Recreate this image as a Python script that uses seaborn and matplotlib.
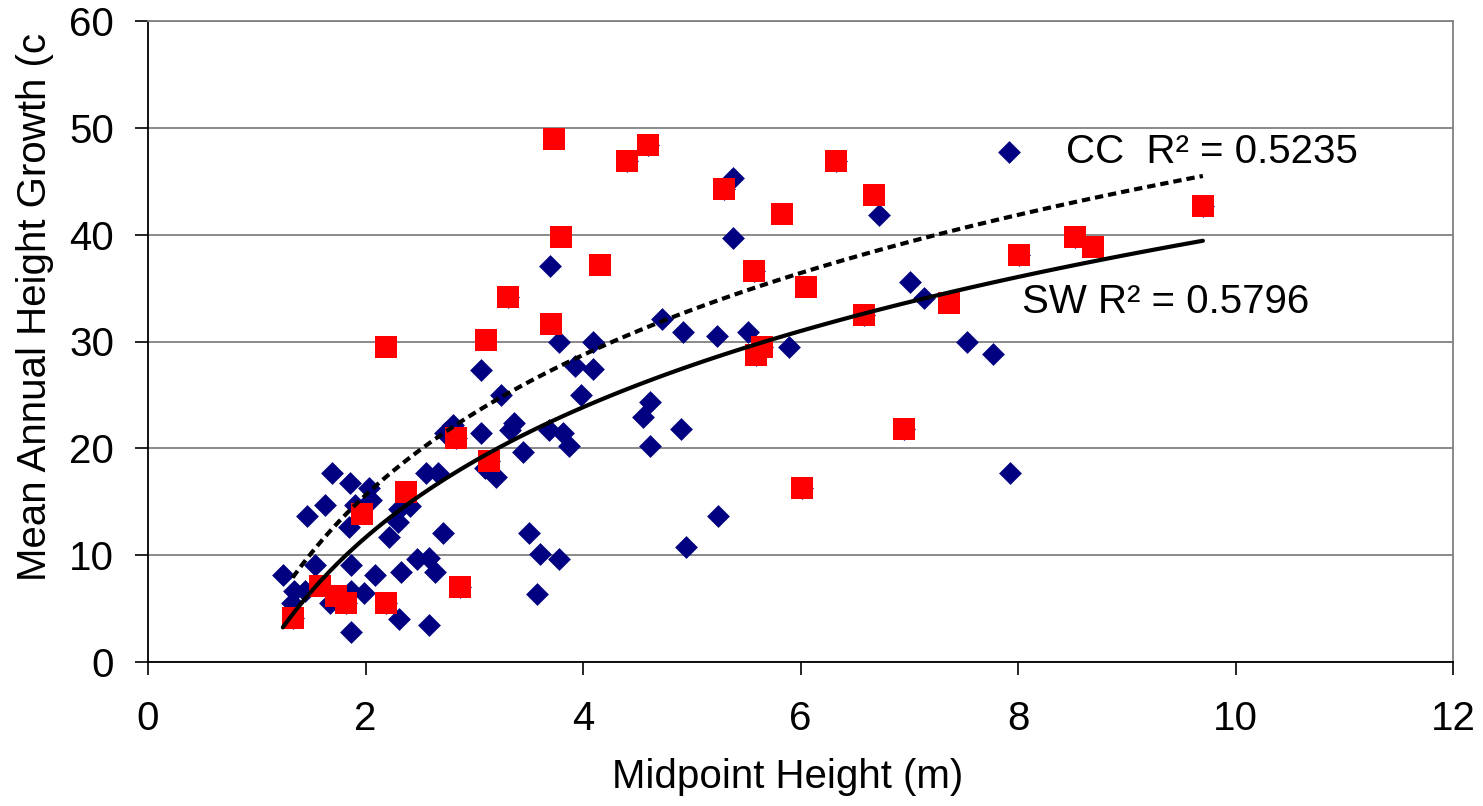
import numpy as np
import pandas as pd
import matplotlib
matplotlib.use("Agg")
import matplotlib.pyplot as plt
import seaborn as sns

# blue diamonds (CC)
cc_x = [1.24, 1.32, 1.33, 1.34, 1.44, 1.46, 1.54, 1.63, 1.67, 1.69, 1.82, 1.85, 1.86, 1.87,
        1.87, 1.87, 1.90, 1.99, 2.03, 2.05, 2.09, 2.19, 2.22, 2.30, 2.31, 2.31, 2.33, 2.41,
        2.47, 2.56, 2.58, 2.58, 2.64, 2.67, 2.71, 2.73, 2.80, 2.83, 2.87, 3.06, 3.06, 3.10,
        3.14, 3.20, 3.25, 3.31, 3.33, 3.37, 3.45, 3.50, 3.58, 3.60, 3.69, 3.70, 3.78, 3.78,
        3.82, 3.87, 3.93, 3.98, 4.09, 4.09, 4.40, 4.55, 4.60, 4.62, 4.62, 4.73, 4.90, 4.92,
        4.95, 5.23, 5.24, 5.30, 5.38, 5.38, 5.52, 5.57, 5.59, 5.65, 5.89, 6.01, 6.33, 6.58,
        6.72, 6.95, 7.01, 7.14, 7.53, 7.77, 7.93, 8.01, 8.52, 9.70]
cc_y = [8.1, 5.5, 4.1, 6.6, 6.6, 13.7, 9.1, 14.7, 5.5, 17.7, 5.5, 12.6, 16.8, 9.1,
        6.6, 2.8, 14.7, 6.5, 16.3, 15.2, 8.1, 5.5, 11.7, 13.1, 14.3, 4.0, 8.4, 14.6,
        9.6, 17.7, 9.7, 3.5, 8.4, 17.7, 12.1, 21.4, 22.2, 21.0, 7.0, 21.4, 27.3, 18.2,
        18.8, 17.3, 25.0, 34.2, 21.7, 22.4, 19.7, 12.1, 6.4, 10.1, 21.7, 37.1, 30.0, 9.6,
        21.4, 20.2, 27.7, 25.0, 30.0, 27.4, 46.9, 22.9, 48.4, 24.3, 20.2, 32.1, 21.8, 30.9,
        10.8, 30.5, 13.7, 44.3, 45.3, 39.7, 30.9, 36.6, 28.7, 29.5, 29.5, 16.3, 46.9, 32.5,
        41.8, 21.8, 35.6, 34.1, 30.0, 28.8, 17.7, 38.1, 39.8, 42.7]

# red squares (SW)
sw_x = [1.33, 1.58, 1.73, 1.82, 1.97, 2.19, 2.19, 2.37, 2.83, 2.87, 3.11, 3.14, 3.31, 3.71,
        3.73, 3.80, 4.16, 4.40, 4.60, 5.30, 5.57, 5.59, 5.65, 5.83, 6.01, 6.05, 6.33, 6.58,
        6.68, 6.95, 7.37, 8.01, 8.52, 8.69, 9.70]
sw_y = [4.1, 7.1, 6.2, 5.5, 13.9, 5.5, 29.5, 15.9, 21.0, 7.0, 30.1, 18.8, 34.2, 31.6,
        49.0, 39.8, 37.2, 46.9, 48.4, 44.3, 36.6, 28.7, 29.5, 41.9, 16.3, 35.1, 46.9, 32.5,
        43.7, 21.8, 33.6, 38.1, 39.8, 38.8, 42.7]

cc_label = "CC  R² = 0.5235"
sw_label = "SW R² = 0.5796"
x_ticks = [0, 2, 4, 6, 8, 10, 12]
y_ticks = [0, 10, 20, 30, 40, 50, 60]

cc = pd.DataFrame({"x": cc_x, "y": cc_y})
sw = pd.DataFrame({"x": sw_x, "y": sw_y})


def log_trend(df):
    # Excel-style logarithmic trendline over the data range
    a, b = np.polyfit(np.log(df["x"]), df["y"], 1)
    xs = np.linspace(df["x"].min(), df["x"].max(), 120)
    return pd.DataFrame({"x": xs, "y": a * np.log(xs) + b})


sns.set_style("white")
plt.rcParams["font.family"] = ["Liberation Sans", "DejaVu Sans"]
plt.rcParams.update({"text.color": "black", "axes.labelcolor": "black",
                     "xtick.color": "black", "ytick.color": "black"})
FS = 29

fig = plt.figure(figsize=(14.83, 8.06), dpi=100)
ax = fig.add_axes([148 / 1483, 144 / 806, 1305 / 1483, 641 / 806])

sns.scatterplot(data=cc, x="x", y="y", marker="D", color="#000080", s=135,
                linewidth=0, ax=ax, zorder=3)
sns.scatterplot(data=sw, x="x", y="y", marker="s", color="#ff0000", s=230,
                linewidth=0, ax=ax, zorder=4)

sns.lineplot(data=log_trend(cc), x="x", y="y", color="black", lw=3, ax=ax, zorder=5)
sns.lineplot(data=log_trend(sw), x="x", y="y", color="black", lw=3, ax=ax, zorder=5,
             dashes=False, linestyle=(0, (2.0, 1.2)))

ax.set_xlim(0, 12)
ax.set_ylim(0, 60)
ax.set_xticks(x_ticks)
ax.set_yticks(y_ticks)
ax.tick_params(axis="both", labelsize=FS, length=9.5, width=1.2, color="black",
               direction="out", bottom=True, left=True)
ax.tick_params(axis="x", pad=18)
ax.tick_params(axis="y", pad=15)
ax.yaxis.grid(True, color="#808080", lw=1.3)
ax.set_axisbelow(True)
for side in ["left", "bottom"]:
    ax.spines[side].set_color("black")
    ax.spines[side].set_linewidth(1.3)
for side in ["top", "right"]:
    ax.spines[side].set_color("#808080")
    ax.spines[side].set_linewidth(1.3)

ax.set_xlabel("Midpoint Height (m)", fontsize=FS)
ax.set_ylabel("Mean Annual Height Growth (c", fontsize=FS)
ax.xaxis.set_label_coords(0.49, -0.150)
ax.yaxis.set_label_coords(-0.072, 0.554)

# legend entry for the blue series
handle = ax.collections[0]
ax.legend([handle], [cc_label], loc="center left", bbox_to_anchor=(0.646, 0.796),
          frameon=False, fontsize=FS, borderpad=0, borderaxespad=0,
          handlelength=0.9, handletextpad=0.95, markerscale=1.0)

ax.text(8.04, 33.7, sw_label, fontsize=FS, va="center", ha="left")

fig.savefig("out.png", dpi=100)
